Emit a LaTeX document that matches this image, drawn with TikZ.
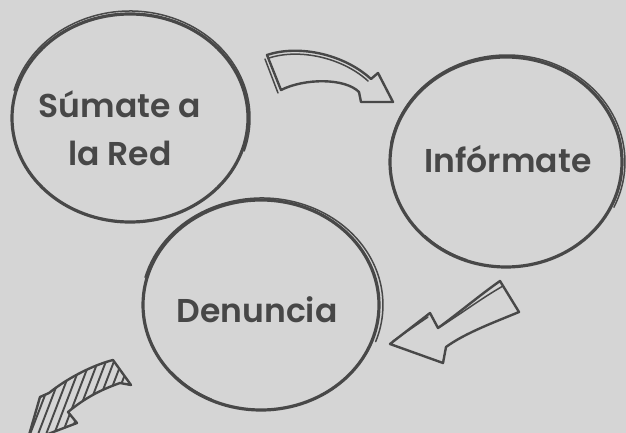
\documentclass[tikz,border=0pt]{standalone}
\usepackage{fontspec}
\setmainfont{Poppins}[BoldFont={Poppins SemiBold}]
\usetikzlibrary{shapes.geometric}
\definecolor{bgc}{HTML}{D5D5D5}
\definecolor{inkc}{HTML}{484848}
\definecolor{txtc}{HTML}{474747}
\begin{document}
\begin{tikzpicture}[x=1pt,y=-1pt,
  bubble/.style={ellipse, draw=inkc, line width=3.2pt, inner sep=0pt},
  sketch/.style={draw=inkc, line width=1.5pt, line cap=round},
  lbl/.style={font=\fontsize{33}{48}\selectfont\bfseries, text=txtc, align=center, inner sep=0pt},
  blockarrow/.style={draw=inkc, line width=2.4pt, line join=round, line cap=round},
  hatchline/.style={draw=inkc, line width=1.9pt}
]
\fill[bgc] (0,0) rectangle (626,433);
\useasboundingbox (0,0) rectangle (626,433);
\clip (0,0) rectangle (626,433);

% circles
\node[bubble, minimum width=236pt, minimum height=208pt] (c1) at (130,118) {};
\node[bubble, minimum width=232pt, minimum height=210pt] (c2) at (506,162) {};
\node[bubble, minimum width=236pt, minimum height=210pt] (c3) at (261,305) {};

% hand-drawn extra strokes
\draw[sketch] (c1.center) ++(195:120 and 107) arc[start angle=195, end angle=378, x radius=120, y radius=107];
\draw[sketch] (c1.center) ++(120:117 and 104) arc[start angle=120, end angle=150, x radius=117, y radius=102];
\draw[sketch] (c2.center) ++(190:117 and 107) arc[start angle=190, end angle=385, x radius=118, y radius=107];
\draw[sketch] (c2.center) ++(110:115 and 104) arc[start angle=110, end angle=135, x radius=114, y radius=103];
\draw[sketch] (c3.center) ++(195:120 and 107) arc[start angle=195, end angle=380, x radius=121, y radius=107];
\draw[sketch] (c3.center) ++(115:117 and 104) arc[start angle=115, end angle=140, x radius=116, y radius=103];

% labels
\node[lbl, anchor=base] (t1) at (120,165) {Súmate a\\la Red};
\node[lbl, anchor=base] (t2) at (508,172) {Infórmate};
\node[lbl, anchor=base] (t3) at (257,322) {Denuncia};

% arrow 1 (Súmate -> Infórmate)
\draw[blockarrow] (267,55) .. controls (300,44) and (345,55) .. (371,79)
  -- (378,73) -- (393,102) -- (361,102) -- (359,92)
  .. controls (345,78) and (305,78) .. (281,90) -- cycle;
\draw[sketch] (269,58) .. controls (300,48) and (343,58) .. (368,81);
\draw[sketch] (265,59) -- (278,93);

% arrow 2 (Infórmate -> Denuncia)
\draw[blockarrow] (500,281) -- (519,312)
  .. controls (495,322) and (465,333) .. (446,347)
  -- (443,363) -- (390,344) -- (430,313) -- (438,328)
  .. controls (460,312) and (480,295) .. cycle;
\draw[sketch] (503,286) .. controls (482,298) and (462,313) .. (440,327);
\draw[sketch] (393,341) -- (428,317);

% arrow 3 (Denuncia -> out)
\begin{scope}
\clip (113,360) -- (131,385) -- (120,383)
  .. controls (100,390) and (85,398) .. (68,412)
  -- (77,423) -- (27,442) -- (40,397) -- (49,393)
  .. controls (65,380) and (90,366) .. cycle;
\foreach \k in {-40,-32,...,140}
  \draw[hatchline] (\k,450) -- (\k+46,330);
\end{scope}
\draw[blockarrow] (113,360) -- (131,385) -- (120,383)
  .. controls (100,390) and (85,398) .. (68,412)
  -- (77,423) -- (27,442) -- (40,397) -- (49,393)
  .. controls (65,380) and (90,366) .. cycle;
\end{tikzpicture}
\end{document}
